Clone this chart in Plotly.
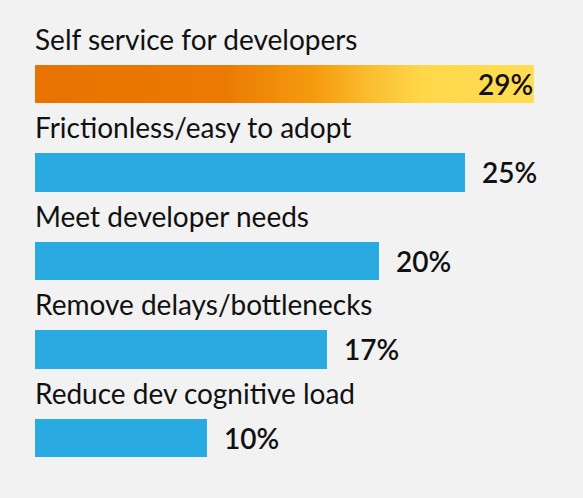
import plotly.graph_objects as go

labels = ["Self service for developers", "Frictionless/easy to adopt", "Meet developer needs",
          "Remove delays/bottlenecks", "Reduce dev cognitive load"]
values = [29, 25, 20, 17, 10]
pct_text = ["29%", "25%", "20%", "17%", "10%"]

blue = "#29aae1"
bar_h = 0.43
pos = [-i for i in range(len(values))]

fig = go.Figure()

# plain blue bars for the rest
fig.add_trace(go.Bar(x=values[1:], y=pos[1:], orientation="h", width=bar_h,
                     marker=dict(color=blue, line=dict(width=0)), hoverinfo="skip"))

# top bar gets the orange -> yellow gradient
v0, y0 = values[0], pos[0]
fig.add_trace(go.Scatter(
    x=[0, v0, v0, 0, 0],
    y=[y0 - bar_h / 2, y0 - bar_h / 2, y0 + bar_h / 2, y0 + bar_h / 2, y0 - bar_h / 2],
    mode="lines", line=dict(width=0), fill="toself",
    fillgradient=dict(type="horizontal",
                      colorscale=[[0, "#e97200"], [0.38, "#eb7a03"], [0.57, "#f69d10"],
                                  [0.67, "#fbbd30"], [0.78, "#ffd84a"], [1, "#ffdc52"]]),
    hoverinfo="skip"))

for i, (lab, v, t) in enumerate(zip(labels, values, pct_text)):
    fig.add_annotation(x=0, y=pos[i] + 0.51, xref="x", yref="y", text=lab, showarrow=False,
                       xanchor="left", yanchor="middle", xshift=-2,
                       font=dict(family="Lato", size=28, color="#111111"))
    if i == 0:
        fig.add_annotation(x=v, y=pos[i], text=t, showarrow=False, xanchor="right",
                           yanchor="middle", xshift=1,
                           font=dict(family="Lato", size=28, color="#111111", weight=600))
    else:
        fig.add_annotation(x=v, y=pos[i], text=t, showarrow=False, xanchor="left",
                           yanchor="middle", xshift=15,
                           font=dict(family="Lato", size=28, color="#111111", weight=600))

fig.update_layout(
    width=583, height=498,
    margin=dict(l=35, r=0, t=0, b=0),
    paper_bgcolor="#f2f2f2", plot_bgcolor="#f2f2f2",
    showlegend=False, bargap=0,
    xaxis=dict(range=[0, 31.86], visible=False, fixedrange=True),
    yaxis=dict(range=[-4.678, 0.949], visible=False, fixedrange=True),
)

fig.write_html("out.html", config={"displayModeBar": False},
               post_script="document.body.style.margin='0';")
